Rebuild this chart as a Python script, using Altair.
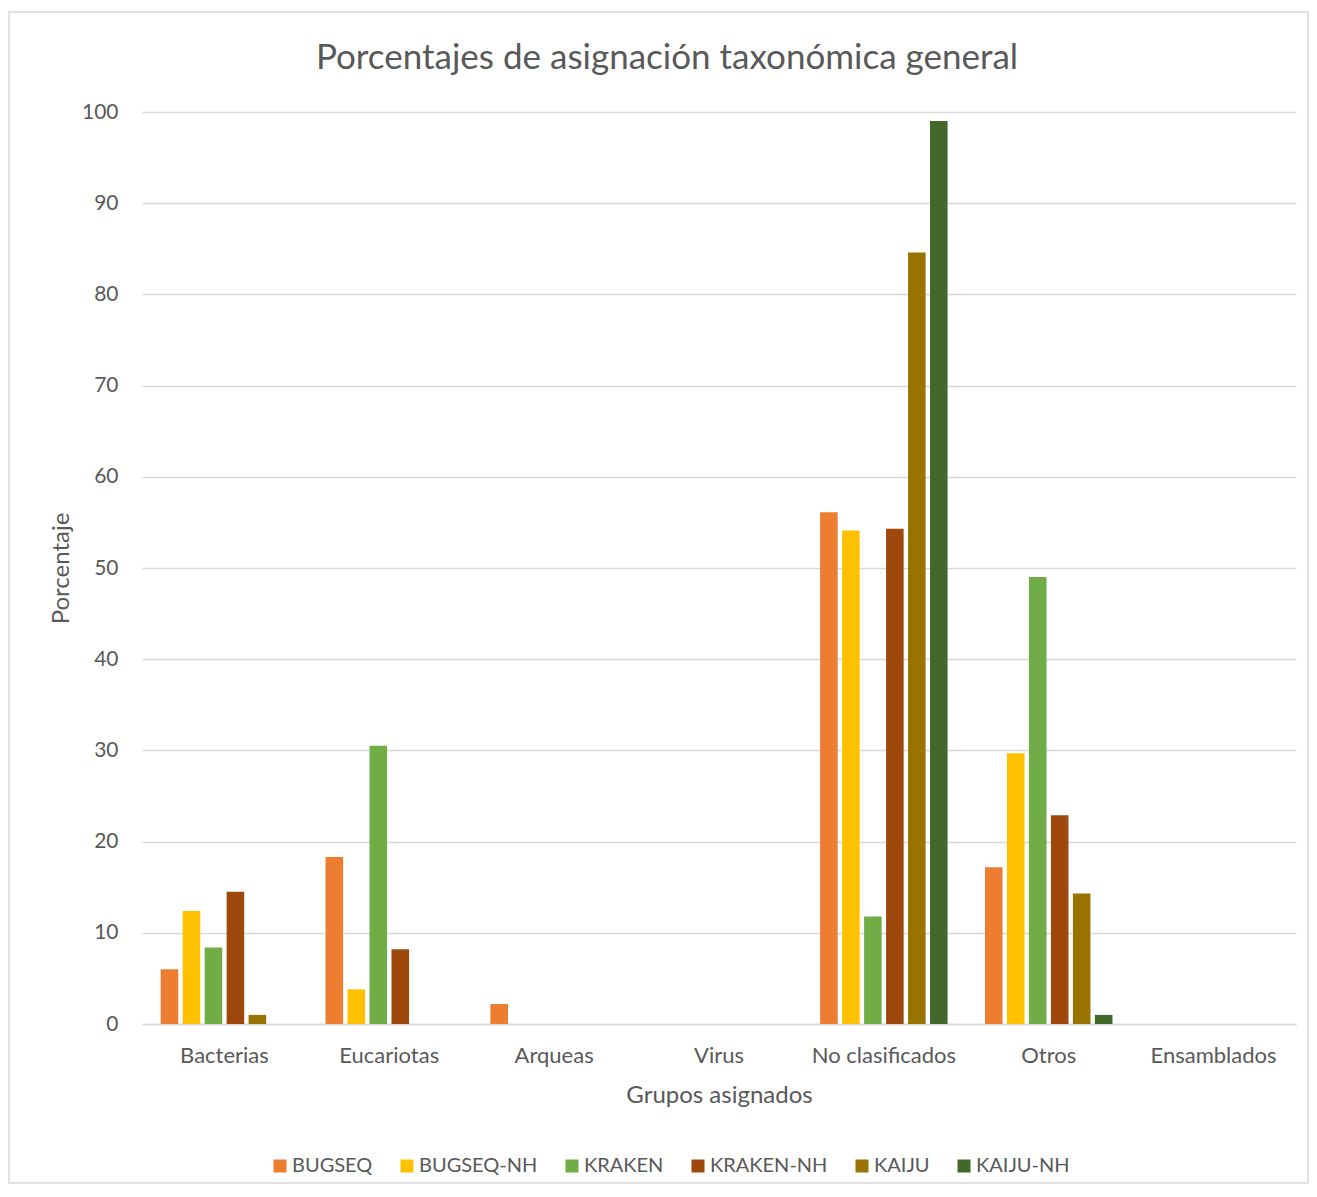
import altair as alt
import pandas as pd

categories = ["Bacterias", "Eucariotas", "Arqueas", "Virus", "No clasificados", "Otros", "Ensamblados"]
series = ["BUGSEQ", "BUGSEQ-NH", "KRAKEN", "KRAKEN-NH", "KAIJU", "KAIJU-NH"]
bugseq = [6.0, 18.3, 2.2, 0, 56.1, 17.2, 0]
bugseq_nh = [12.4, 3.8, 0, 0, 54.1, 29.7, 0]
kraken = [8.4, 30.5, 0, 0, 11.8, 49.0, 0]
kraken_nh = [14.5, 8.2, 0, 0, 54.3, 22.9, 0]
kaiju = [1.0, 0, 0, 0, 84.6, 14.3, 0]
kaiju_nh = [0, 0, 0, 0, 99.0, 1.0, 0]
colors = ["#ED7D31", "#FFC000", "#70AD47", "#9E480E", "#997300", "#43682B"]
y_ticks = list(range(0, 101, 10))

values_by_series = [bugseq, bugseq_nh, kraken, kraken_nh, kaiju, kaiju_nh]
rows = []
for s, vals in zip(series, values_by_series):
    for c, v in zip(categories, vals):
        rows.append({"Grupo": c, "Serie": s, "Porcentaje": v})
df = pd.DataFrame(rows)

GRAY = "#595959"
GRID = "#D9D9D9"

bars = alt.Chart(df).mark_bar().encode(
    x=alt.X("Grupo:N", sort=categories,
            scale=alt.Scale(paddingInner=0.2, paddingOuter=0.1),
            axis=alt.Axis(title="Grupos asignados", labelAngle=0, ticks=False, tickSize=0,
                          domain=True, domainColor=GRID, domainWidth=1.5,
                          labelPadding=21, titlePadding=17, labelFontSize=22,
                          titleFontSize=24)),
    xOffset=alt.XOffset("Serie:N", sort=series,
                        scale=alt.Scale(domain=series, paddingInner=0.2, paddingOuter=0.1)),
    y=alt.Y("Porcentaje:Q",
            scale=alt.Scale(domain=[0, 100], nice=False),
            axis=alt.Axis(title="Porcentaje", values=y_ticks, ticks=False, tickSize=0,
                          domain=False, grid=True, gridColor=GRID, gridWidth=1.3,
                          labelPadding=24, titlePadding=8, labelFontSize=21,
                          titleFontSize=24)),
    color=alt.Color("Serie:N", sort=series,
                    scale=alt.Scale(domain=series, range=colors),
                    legend=alt.Legend(title=None, orient="none", direction="horizontal",
                                      legendX=128, legendY=1044,
                                      symbolType="square", symbolSize=169,
                                      symbolStrokeWidth=0, labelFontSize=20,
                                      labelColor=GRAY, columnPadding=24, labelOffset=2)),
)

frame = alt.Chart(alt.Data(values=[{}])).mark_rect(
    fill=None, stroke=GRID, strokeWidth=1.5
).encode(
    x=alt.value(-133), x2=alt.value(1166), y=alt.value(-100), y2=alt.value(1071)
)

chart = alt.layer(frame, bars).properties(
    width=1154, height=912,
    autosize=alt.AutoSizeParams(type="none"),
    padding={"left": 134, "top": 104, "right": 13, "bottom": 160},
    title=alt.TitleParams("Porcentajes de asignación taxonómica general",
                          fontSize=35, fontWeight="normal", color=GRAY,
                          anchor="middle", frame="group", dx=-52, offset=-65),
).configure(font="Lato").configure_axis(
    labelColor=GRAY, titleColor=GRAY, titleFontWeight="normal", labelFont="Lato", titleFont="Lato"
).configure_legend(labelFont="Lato").configure_view(stroke=None)

chart.save("out.html", embed_options={"renderer": "svg", "actions": False})
